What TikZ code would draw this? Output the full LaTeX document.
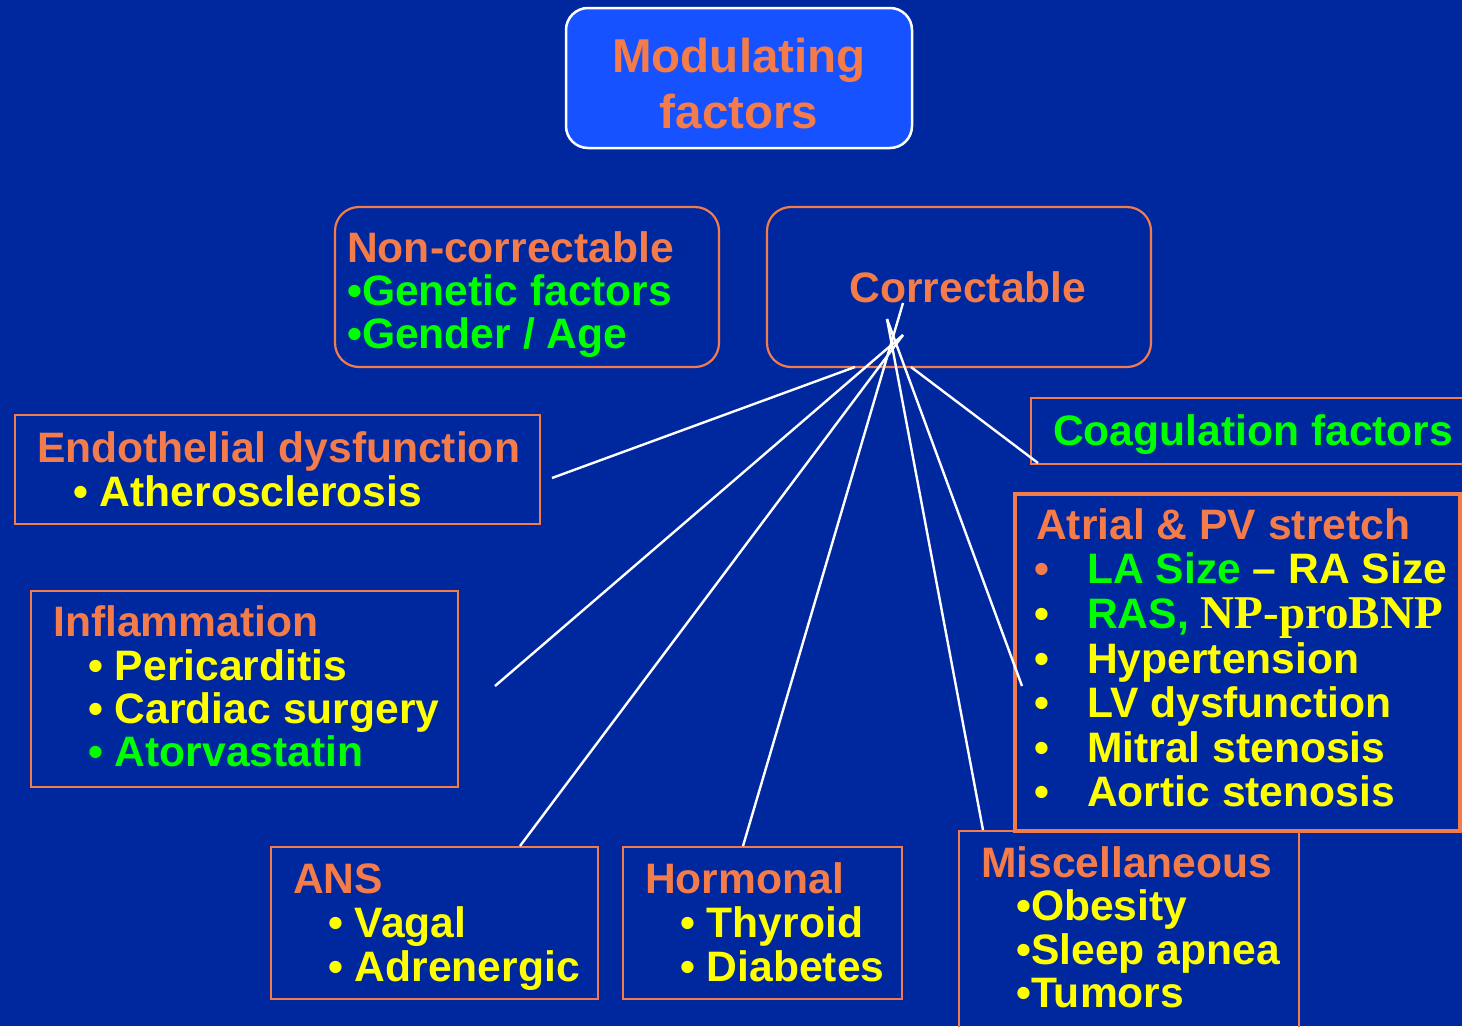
\documentclass[tikz,border=0pt]{standalone}
\usepackage{fontspec}
\setmainfont{Liberation Sans}
\newfontfamily\serifbold{Liberation Serif}
\definecolor{bgblue}{RGB}{0,40,158}
\definecolor{boxblue}{RGB}{22,82,255}
\definecolor{org}{RGB}{244,123,74}
\definecolor{yel}{RGB}{255,255,0}
\definecolor{grn}{RGB}{0,255,0}
\tikzset{
  obox/.style={draw=org, line width=2.2pt, anchor=north west, inner sep=0pt, outer sep=0pt},
  rbox/.style={obox, rounded corners=24pt},
  txt/.style={anchor=base west, inner sep=0pt, font=\fontsize{42.6}{44}\selectfont\bfseries},
  ttl/.style={txt, text=org},
  ytx/.style={txt, text=yel},
  gtx/.style={txt, text=grn},
  link/.style={draw=white, line width=2.4pt},
}
\begin{document}
\begin{tikzpicture}[x=1pt,y=-1pt]
\fill[bgblue] (0,0) rectangle (1462,1026);
\useasboundingbox (0,0) rectangle (1462,1026);

% top box
\node[anchor=north west, inner sep=0pt, outer sep=0pt, rounded corners=22pt, fill=boxblue, draw=white, line width=2.5pt, minimum width=346pt, minimum height=140pt] (mod) at (566,8) {};
\node[txt, anchor=base, text=org, font=\fontsize{47.5}{56}\selectfont\bfseries] (modA) at (739,72) {Modulating};
\node[txt, anchor=base, text=org, font=\fontsize{47.5}{56}\selectfont\bfseries] (modB) at (739,128) {factors};

% non-correctable
\node[rbox, minimum width=384pt, minimum height=160pt] (noncor) at (335,207) {};
\node[ttl] (nc1) at (347,262) {Non-correctable};
\node[gtx] (nc2) at (347,305) {•Genetic factors};
\node[gtx] (nc3) at (347,348) {•Gender / Age};

% correctable
\node[rbox, minimum width=384pt, minimum height=160pt] (cor) at (767,207) {};
\node[ttl, anchor=base] (cort) at (968,302) {Correctable};

% endothelial
\node[obox, minimum width=525pt, minimum height=109pt] (endo) at (15,415) {};
\node[ttl] (en1) at (37,462) {Endothelial dysfunction};
\node[ytx] (en2) at (73,506) {• Atherosclerosis};

% coagulation
\node[obox, minimum width=460pt, minimum height=66pt] (coag) at (1031,398) {};
\node[gtx] (co1) at (1053,445) {Coagulation factors};

% atrial
\node[obox, line width=4pt, minimum width=445pt, minimum height=337pt] (atr) at (1015,494) {};
\node[ttl] (at0) at (1036,539) {Atrial \& PV stretch};
\node[txt, text=org] (atb1) at (1034,583) {•};
\node[gtx] (at1) at (1087,583) {LA Size \textcolor{yel}{– RA Size}};
\node[txt, text=yel] (atb2) at (1034,628) {•};
\node[gtx] (at2) at (1087,628) {RAS, \textcolor{yel}{\serifbold\bfseries\fontsize{47}{47}\selectfont NP-proBNP}};
\node[txt, text=yel] (atb3) at (1034,673) {•};
\node[ytx] (at3) at (1087,673) {Hypertension};
\node[txt, text=yel] (atb4) at (1034,717) {•};
\node[ytx] (at4) at (1087,717) {LV dysfunction};
\node[txt, text=yel] (atb5) at (1034,762) {•};
\node[ytx] (at5) at (1087,762) {Mitral stenosis};
\node[txt, text=yel] (atb6) at (1034,806) {•};
\node[ytx] (at6) at (1087,806) {Aortic stenosis};

% inflammation
\node[obox, minimum width=427pt, minimum height=196pt] (infl) at (31,591) {};
\node[ttl] (in0) at (53,636) {Inflammation};
\node[ytx] (in1) at (88,680) {• Pericarditis};
\node[ytx] (in2) at (88,723) {• Cardiac surgery};
\node[gtx] (in3) at (88,766) {• Atorvastatin};

% ANS
\node[obox, minimum width=327pt, minimum height=152pt] (ans) at (271,847) {};
\node[ttl] (an0) at (293,893) {ANS};
\node[ytx] (an1) at (328,937) {• Vagal};
\node[ytx] (an2) at (328,981) {• Adrenergic};

% Hormonal
\node[obox, minimum width=279pt, minimum height=152pt] (horm) at (623,847) {};
\node[ttl] (ho0) at (645,893) {Hormonal};
\node[ytx] (ho1) at (680,937) {• Thyroid};
\node[ytx] (ho2) at (680,981) {• Diabetes};

% Miscellaneous
\node[obox, minimum width=340pt, minimum height=230pt] (misc) at (959,831) {};
\node[ttl] (mi0) at (981,877) {Miscellaneous};
\node[ytx] (mi1) at (1016,920) {•Obesity};
\node[ytx] (mi2) at (1016,964) {•Sleep apnea};
\node[ytx] (mi3) at (1016,1007) {•Tumors};

% connector coordinates
\coordinate (sEndo) at (855,367);
\coordinate (eEndo) at (552,478);
\coordinate (sLeft) at (903,335);
\coordinate (eInfl) at (495,686);
\coordinate (eAns) at (520,846);
\coordinate (sHorm) at (903,303);
\coordinate (eHorm) at (743,846);
\coordinate (sRight) at (887,319);
\coordinate (eMisc) at (983,830);
\coordinate (eAtr) at (1022,686);
\coordinate (sCoag) at (911,367);
\coordinate (eCoag) at (1038,463);

\draw[link] (sEndo) -- (eEndo);
\draw[link] (sLeft) -- (eInfl);
\draw[link] (sLeft) -- (eAns);
\draw[link] (sHorm) -- (eHorm);
\draw[link] (sRight) -- (eMisc);
\draw[link] (sRight) -- (eAtr);
\draw[link] (sCoag) -- (eCoag);
\end{tikzpicture}
\end{document}
